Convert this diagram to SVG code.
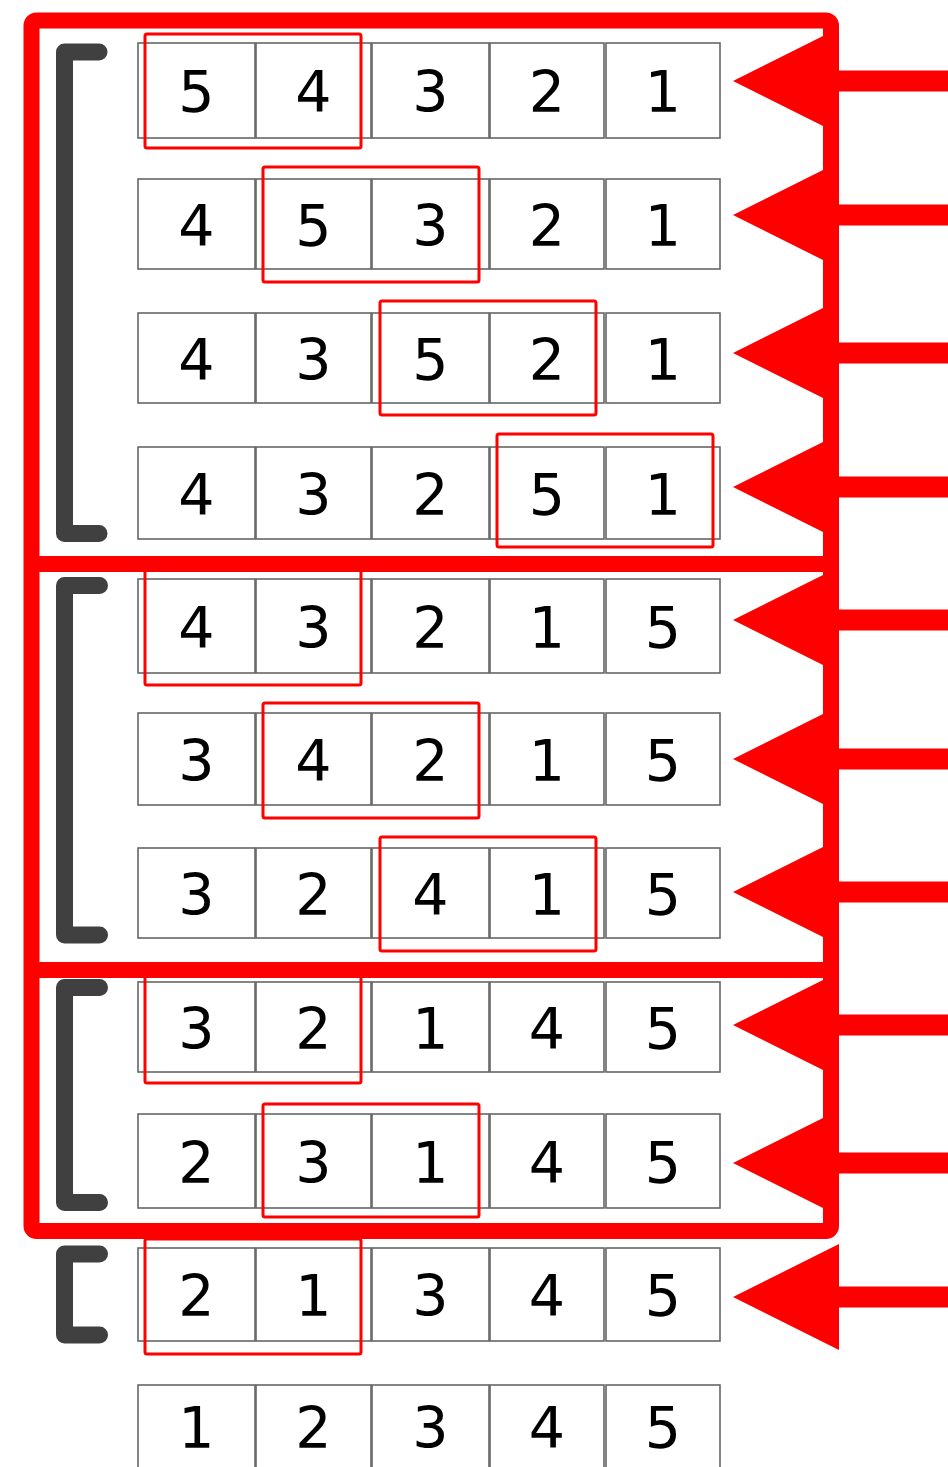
<svg xmlns="http://www.w3.org/2000/svg" width="948" height="1467" viewBox="0 0 948 1467">
<style>
.cell{fill:#fff;stroke:#666666;stroke-width:1.6}
.num{font-family:"DejaVu Sans",sans-serif;font-size:57px;fill:#000;text-anchor:middle}
.hl{fill:none;stroke:#ff0000;stroke-width:3}
.frame{fill:none;stroke:#ff0000;stroke-width:16}
.br{fill:none;stroke:#404040;stroke-width:17;stroke-linecap:round;stroke-linejoin:round}
.arr{fill:#ff0000}
</style>
<rect width="948" height="1467" fill="#fff"/>

<g id="row1">
<rect class="cell" x="138" y="43" width="117" height="95"/><rect class="cell" x="256" y="43" width="115" height="95"/><rect class="cell" x="372" y="43" width="117" height="95"/><rect class="cell" x="490" y="43" width="114" height="95"/><rect class="cell" x="606" y="43" width="114" height="95"/>
<text class="num" x="196.5" y="112">5</text><text class="num" x="313.5" y="112">4</text><text class="num" x="430.5" y="112">3</text><text class="num" x="547" y="112">2</text><text class="num" x="663" y="112">1</text>
</g>
<g id="row2">
<rect class="cell" x="138" y="179" width="117" height="90"/><rect class="cell" x="256" y="179" width="115" height="90"/><rect class="cell" x="372" y="179" width="117" height="90"/><rect class="cell" x="490" y="179" width="114" height="90"/><rect class="cell" x="606" y="179" width="114" height="90"/>
<text class="num" x="196.5" y="245.5">4</text><text class="num" x="313.5" y="245.5">5</text><text class="num" x="430.5" y="245.5">3</text><text class="num" x="547" y="245.5">2</text><text class="num" x="663" y="245.5">1</text>
</g>
<g id="row3">
<rect class="cell" x="138" y="313" width="117" height="90"/><rect class="cell" x="256" y="313" width="115" height="90"/><rect class="cell" x="372" y="313" width="117" height="90"/><rect class="cell" x="490" y="313" width="114" height="90"/><rect class="cell" x="606" y="313" width="114" height="90"/>
<text class="num" x="196.5" y="379.5">4</text><text class="num" x="313.5" y="379.5">3</text><text class="num" x="430.5" y="379.5">5</text><text class="num" x="547" y="379.5">2</text><text class="num" x="663" y="379.5">1</text>
</g>
<g id="row4">
<rect class="cell" x="138" y="447" width="117" height="92"/><rect class="cell" x="256" y="447" width="115" height="92"/><rect class="cell" x="372" y="447" width="117" height="92"/><rect class="cell" x="490" y="447" width="114" height="92"/><rect class="cell" x="606" y="447" width="114" height="92"/>
<text class="num" x="196.5" y="514.5">4</text><text class="num" x="313.5" y="514.5">3</text><text class="num" x="430.5" y="514.5">2</text><text class="num" x="547" y="514.5">5</text><text class="num" x="663" y="514.5">1</text>
</g>
<g id="row5">
<rect class="cell" x="138" y="579" width="117" height="94"/><rect class="cell" x="256" y="579" width="115" height="94"/><rect class="cell" x="372" y="579" width="117" height="94"/><rect class="cell" x="490" y="579" width="114" height="94"/><rect class="cell" x="606" y="579" width="114" height="94"/>
<text class="num" x="196.5" y="647.5">4</text><text class="num" x="313.5" y="647.5">3</text><text class="num" x="430.5" y="647.5">2</text><text class="num" x="547" y="647.5">1</text><text class="num" x="663" y="647.5">5</text>
</g>
<g id="row6">
<rect class="cell" x="138" y="713" width="117" height="92"/><rect class="cell" x="256" y="713" width="115" height="92"/><rect class="cell" x="372" y="713" width="117" height="92"/><rect class="cell" x="490" y="713" width="114" height="92"/><rect class="cell" x="606" y="713" width="114" height="92"/>
<text class="num" x="196.5" y="780.5">3</text><text class="num" x="313.5" y="780.5">4</text><text class="num" x="430.5" y="780.5">2</text><text class="num" x="547" y="780.5">1</text><text class="num" x="663" y="780.5">5</text>
</g>
<g id="row7">
<rect class="cell" x="138" y="848" width="117" height="90"/><rect class="cell" x="256" y="848" width="115" height="90"/><rect class="cell" x="372" y="848" width="117" height="90"/><rect class="cell" x="490" y="848" width="114" height="90"/><rect class="cell" x="606" y="848" width="114" height="90"/>
<text class="num" x="196.5" y="914.5">3</text><text class="num" x="313.5" y="914.5">2</text><text class="num" x="430.5" y="914.5">4</text><text class="num" x="547" y="914.5">1</text><text class="num" x="663" y="914.5">5</text>
</g>
<g id="row8">
<rect class="cell" x="138" y="982" width="117" height="90"/><rect class="cell" x="256" y="982" width="115" height="90"/><rect class="cell" x="372" y="982" width="117" height="90"/><rect class="cell" x="490" y="982" width="114" height="90"/><rect class="cell" x="606" y="982" width="114" height="90"/>
<text class="num" x="196.5" y="1048.5">3</text><text class="num" x="313.5" y="1048.5">2</text><text class="num" x="430.5" y="1048.5">1</text><text class="num" x="547" y="1048.5">4</text><text class="num" x="663" y="1048.5">5</text>
</g>
<g id="row9">
<rect class="cell" x="138" y="1114" width="117" height="94"/><rect class="cell" x="256" y="1114" width="115" height="94"/><rect class="cell" x="372" y="1114" width="117" height="94"/><rect class="cell" x="490" y="1114" width="114" height="94"/><rect class="cell" x="606" y="1114" width="114" height="94"/>
<text class="num" x="196.5" y="1182.5">2</text><text class="num" x="313.5" y="1182.5">3</text><text class="num" x="430.5" y="1182.5">1</text><text class="num" x="547" y="1182.5">4</text><text class="num" x="663" y="1182.5">5</text>
</g>
<g id="row10">
<rect class="cell" x="138" y="1248" width="117" height="93"/><rect class="cell" x="256" y="1248" width="115" height="93"/><rect class="cell" x="372" y="1248" width="117" height="93"/><rect class="cell" x="490" y="1248" width="114" height="93"/><rect class="cell" x="606" y="1248" width="114" height="93"/>
<text class="num" x="196.5" y="1316">2</text><text class="num" x="313.5" y="1316">1</text><text class="num" x="430.5" y="1316">3</text><text class="num" x="547" y="1316">4</text><text class="num" x="663" y="1316">5</text>
</g>
<g id="row11">
<rect class="cell" x="138" y="1385" width="117" height="92"/><rect class="cell" x="256" y="1385" width="115" height="92"/><rect class="cell" x="372" y="1385" width="117" height="92"/><rect class="cell" x="490" y="1385" width="114" height="92"/><rect class="cell" x="606" y="1385" width="114" height="92"/>
<text class="num" x="196.5" y="1448">1</text><text class="num" x="313.5" y="1448">2</text><text class="num" x="430.5" y="1448">3</text><text class="num" x="547" y="1448">4</text><text class="num" x="663" y="1448">5</text>
</g>

<g id="highlights">
<rect class="hl" x="145" y="34" width="216" height="114" rx="2"/>
<rect class="hl" x="263" y="167" width="216" height="115" rx="2"/>
<rect class="hl" x="380" y="301" width="216" height="114" rx="2"/>
<rect class="hl" x="497" y="434" width="216" height="113" rx="2"/>
<rect class="hl" x="145" y="569" width="216" height="116" rx="2"/>
<rect class="hl" x="263" y="703" width="216" height="115" rx="2"/>
<rect class="hl" x="380" y="837" width="216" height="114" rx="2"/>
<rect class="hl" x="145" y="970" width="216" height="113" rx="2"/>
<rect class="hl" x="263" y="1104" width="216" height="113" rx="2"/>
<rect class="hl" x="145" y="1239" width="216" height="115" rx="2"/>
</g>

<g id="brackets">
<path class="br" d="M99 52 H64.5 V533.5 H99"/>
<path class="br" d="M99.5 585.5 H64.5 V935 H99.5"/>
<path class="br" d="M99.5 987.5 H64.5 V1202.5 H99.5"/>
<path class="br" d="M99.5 1254 H64.5 V1335 H99.5"/>
</g>

<g id="connectors">
<rect class="frame" x="31.5" y="20.5" width="799.5" height="1210.5" rx="5"/>
<line class="frame" x1="31.5" y1="564" x2="831" y2="564"/>
<line class="frame" x1="31.5" y1="970" x2="831" y2="970"/>
<polygon class="arr" points="733,81 839,28 839,70.5 948,70.5 948,91.5 839,91.5 839,134"/>
<polygon class="arr" points="733,215 839,162 839,204.5 948,204.5 948,225.5 839,225.5 839,268"/>
<polygon class="arr" points="733,353 839,300 839,342.5 948,342.5 948,363.5 839,363.5 839,406"/>
<polygon class="arr" points="733,487 839,434 839,476.5 948,476.5 948,497.5 839,497.5 839,540"/>
<polygon class="arr" points="733,620 839,567 839,609.5 948,609.5 948,630.5 839,630.5 839,673"/>
<polygon class="arr" points="733,759 839,706 839,748.5 948,748.5 948,769.5 839,769.5 839,812"/>
<polygon class="arr" points="733,892 839,839 839,881.5 948,881.5 948,902.5 839,902.5 839,945"/>
<polygon class="arr" points="733,1025 839,972 839,1014.5 948,1014.5 948,1035.5 839,1035.5 839,1078"/>
<polygon class="arr" points="733,1163 839,1110 839,1152.5 948,1152.5 948,1173.5 839,1173.5 839,1216"/>
<polygon class="arr" points="733,1297 839,1244 839,1286.5 948,1286.5 948,1307.5 839,1307.5 839,1350"/>
</g>
</svg>
